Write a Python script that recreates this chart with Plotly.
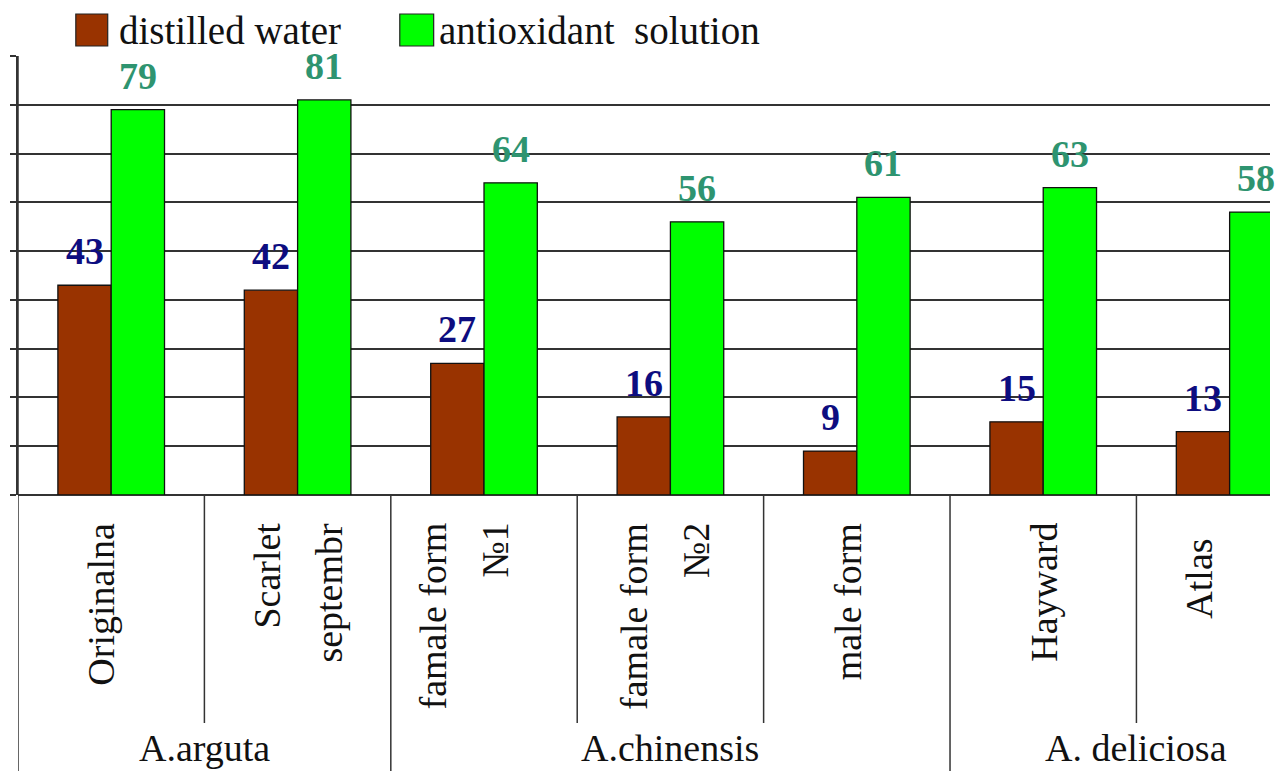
import plotly.graph_objects as go

# Cultivars / forms (x categories), grouped by species
cultivars = ["Originalna", "Scarlet\nseptembr", "famale form\n№1", "famale form\n№2",
             "male form", "Hayward", "Atlas"]
species = ["A.arguta", "A.chinensis", "A. deliciosa"]
species_sizes = [2, 3, 2]

series_names = ["distilled water", "antioxidant solution"]
distilled_water = [43, 42, 27, 16, 9, 15, 13]
antioxidant_solution = [79, 81, 64, 56, 61, 63, 58]

BROWN = "#993300"
GREEN = "#00FF00"
LABEL_BLUE = "#0D0D80"
LABEL_GREEN = "#2E9470"
FONT = "Liberation Serif, Times New Roman, serif"

W, H = 1284, 771
ML, MR, MT, MB = 14, 14, 56, 276
PW = W - ML - MR
PH = H - MT - MB
CAT_PX = 187.0            # pixel width of one category slot
BARGAP = 0.428


def px_x(p):
    return (p - ML) / PW


def px_y(p):
    return (H - MB - p) / PH


xs = list(range(len(cultivars)))
x_hi = -0.5 + PW / CAT_PX

fig = go.Figure()
fig.add_trace(go.Bar(x=xs, y=distilled_water, name=series_names[0],
                     marker=dict(color=BROWN, line=dict(color="#111111", width=1.3))))
fig.add_trace(go.Bar(x=xs, y=antioxidant_solution, name=series_names[1],
                     marker=dict(color=GREEN, line=dict(color="#111111", width=1.3))))

annotations = []
shapes = []

# value labels above each bar
half = (1 - BARGAP) / 4
for i in xs:
    for vals, sign, col in ((distilled_water, -1, LABEL_BLUE), (antioxidant_solution, 1, LABEL_GREEN)):
        annotations.append(dict(
            x=i + sign * half, y=vals[i], xref="x", yref="y",
            text=f"<b>{vals[i]}</b>", showarrow=False,
            xanchor="center", yanchor="bottom", yshift=11,
            font=dict(family=FONT, size=38, color=col)))

# rotated cultivar labels below the axis (small per-label nudges in pixels)
label_nudge_x = [-11, 0, -21, -6, -9, 0, -31]
label_nudge_y = [0, 0, 0, 0, 0, 0, 16]
line_step = 31
for i, lab in enumerate(cultivars):
    lines = lab.split("\n")
    n = len(lines)
    for k, ln in enumerate(lines):
        off = (k - (n - 1) / 2) * 2 * line_step
        annotations.append(dict(
            x=i, y=px_y(521), xref="x", yref="paper",
            text=ln, showarrow=False, textangle=-90,
            xanchor="center", yanchor="top",
            xshift=label_nudge_x[i] + off, yshift=-label_nudge_y[i],
            font=dict(family=FONT, size=38, color="#111111")))

# species labels and divider lines
start = 0
for name, size in zip(species, species_sizes):
    center = start + (size - 1) / 2
    annotations.append(dict(
        x=center, y=px_y(748), xref="x", yref="paper", text=name, showarrow=False,
        xanchor="center", yanchor="middle",
        font=dict(family=FONT, size=38, color="#111111")))
    for j in range(start, start + size):
        bx = j + 0.5
        last_in_group = (j == start + size - 1)
        if bx > x_hi:
            continue
        shapes.append(dict(type="line", xref="x", yref="paper",
                           x0=bx, x1=bx, y0=0, y1=px_y(771 if last_in_group else 723),
                           line=dict(color="#333333", width=1.5)))
    start += size

# left axis continues down through the label area
shapes.append(dict(type="line", xref="x", yref="paper", x0=-0.5, x1=-0.5,
                   y0=1.0, y1=px_y(771), line=dict(color="#333333", width=1.5)))

# legend drawn as swatches + text
for sw_x0, sw_x1, txt_x, name, col in ((72, 104, 113, series_names[0], BROWN),
                                       (397, 431, 434, series_names[1], GREEN)):
    shapes.append(dict(type="rect", xref="paper", yref="paper",
                       x0=px_x(sw_x0), x1=px_x(sw_x1), y0=px_y(46), y1=px_y(14),
                       fillcolor=col, line=dict(color="#222222", width=1.2)))
    annotations.append(dict(x=px_x(txt_x), y=px_y(31), xref="paper", yref="paper",
                            text=name.replace("t s", "t&nbsp; s"), showarrow=False,
                            xanchor="left", yanchor="middle",
                            font=dict(family=FONT, size=39, color="#111111")))

fig.update_layout(
    width=W, height=H,
    margin=dict(l=ML, r=MR, t=MT, b=MB, pad=0),
    paper_bgcolor="white", plot_bgcolor="white",
    barmode="group", bargap=BARGAP, bargroupgap=0,
    showlegend=False,
    annotations=annotations, shapes=shapes,
    xaxis=dict(range=[-0.5, x_hi], showticklabels=False, showgrid=False,
               zeroline=False, ticks="", showline=False, fixedrange=True),
    yaxis=dict(range=[0, 90], dtick=10, showticklabels=False,
               showgrid=True, gridcolor="#333333", gridwidth=1.5,
               zeroline=True, zerolinecolor="#333333", zerolinewidth=1.5,
               showline=True, linecolor="#333333", linewidth=1.5,
               ticks="outside", ticklen=6, tickcolor="#333333", tickwidth=1.5,
               fixedrange=True),
)

fig.write_html("out.html", config={"displayModeBar": False})
